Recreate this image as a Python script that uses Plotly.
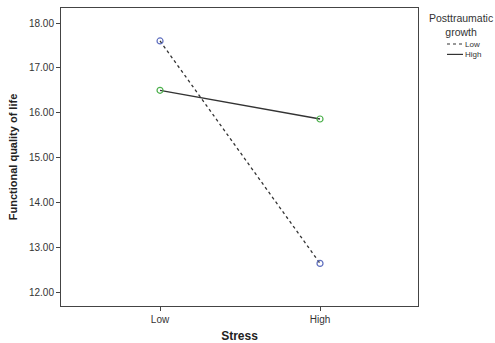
import plotly.graph_objects as go

stress = ["Low", "High"]
ptg_low = [17.60, 12.64]
ptg_high = [16.50, 15.86]
yticks = [12, 13, 14, 15, 16, 17, 18]
ytick_labels = ["12.00", "13.00", "14.00", "15.00", "16.00", "17.00", "18.00"]
legend_title = "Posttraumatic<br>growth"
legend_names = ["Low", "High"]

W, H = 495, 343
ML, MR, MT, MB = 61, 77, 8, 37
PW, PH = W - ML - MR, H - MT - MB


def px(x):
    return (x - ML) / PW


def py(y):
    return (H - MB - y) / PH


font = "Liberation Sans, Arial, sans-serif"

fig = go.Figure()
fig.add_trace(go.Scatter(
    x=stress, y=ptg_low, name=legend_names[0], mode="lines+markers",
    line=dict(color="#333333", width=1.3, dash="dot"),
    marker=dict(symbol="circle-open", size=6, color="#5f6fbf", line=dict(width=1.2)),
    showlegend=False,
))
fig.add_trace(go.Scatter(
    x=stress, y=ptg_high, name=legend_names[1], mode="lines+markers",
    line=dict(color="#333333", width=1.3),
    marker=dict(symbol="circle-open", size=6, color="#4cb04c", line=dict(width=1.2)),
    showlegend=False,
))

# legend drawn as text + line samples
fig.add_annotation(
    text=legend_title, xref="paper", yref="paper", x=px(461), y=py(11),
    xanchor="center", yanchor="top", showarrow=False, align="center",
    font=dict(family=font, size=10.5, color="#333333"), borderpad=0,
)
fig.add_annotation(
    text="<br>".join(legend_names), xref="paper", yref="paper", x=px(464), y=py(49.2),
    xanchor="left", yanchor="middle", showarrow=False, align="left",
    font=dict(family=font, size=8, color="#333333"), borderpad=0,
)
for yy, dash in [(44, "dot"), (54.4, "solid")]:
    fig.add_shape(type="line", xref="paper", yref="paper",
                  x0=px(447), x1=px(463), y0=py(yy), y1=py(yy),
                  line=dict(color="#333333", width=1.2, dash=dash))

fig.update_layout(
    width=W, height=H,
    margin=dict(l=ML, r=MR, t=MT, b=MB, autoexpand=False),
    paper_bgcolor="white", plot_bgcolor="white",
    font=dict(family=font, size=10, color="#333333"),
    showlegend=False,
    xaxis=dict(
        type="category", range=[-0.619, 1.6125], automargin=False,
        showline=True, linecolor="#444444", linewidth=1, mirror=True,
        ticks="outside", ticklen=4, tickcolor="#444444",
        showgrid=False, zeroline=False,
        title=dict(text="<b>Stress</b>", font=dict(size=12, color="#222222"), standoff=7),
        tickfont=dict(size=10, color="#333333"),
    ),
    yaxis=dict(
        range=[11.69, 18.335], automargin=False,
        tickvals=yticks, ticktext=ytick_labels,
        showline=True, linecolor="#444444", linewidth=1, mirror=True,
        ticks="outside", ticklen=4, tickcolor="#444444",
        showgrid=False, zeroline=False,
        title=dict(text="<b>Functional quality of life</b>", font=dict(size=11, color="#222222"), standoff=9),
        tickfont=dict(size=10, color="#333333"),
    ),
)

fig.write_html("out.html")
